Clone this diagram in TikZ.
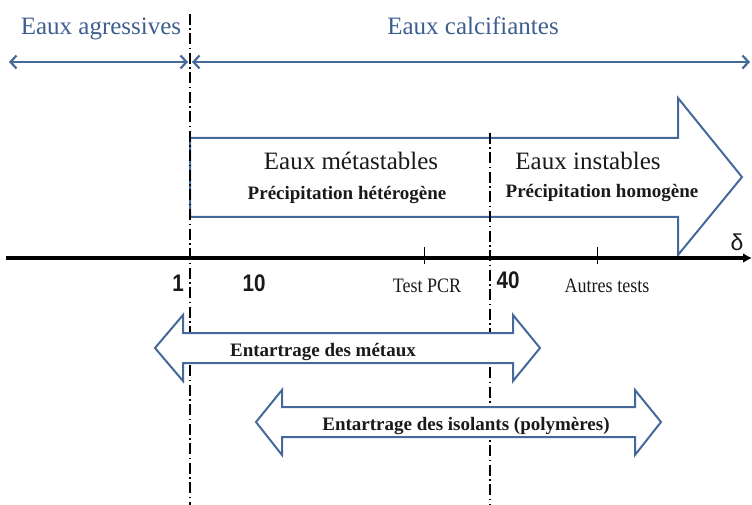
\documentclass[tikz,border=0pt]{standalone}
\usepackage{fontspec}
\setmainfont{Liberation Serif}
\newfontfamily\labsans{Liberation Sans}
\newfontfamily\numsans[FakeStretch=0.86]{Liberation Sans}
\newfontfamily\tickserif[FakeStretch=0.88]{Liberation Serif}
\usetikzlibrary{arrows.meta}

\definecolor{lineblue}{HTML}{45699B}
\definecolor{textblue}{HTML}{3E5F8E}
\definecolor{ink}{HTML}{1A1A1A}

\tikzset{
  zone/.style={anchor=base, inner sep=0pt, text=textblue, font=\fontsize{25}{25}\selectfont},
  title/.style={anchor=base, inner sep=0pt, text=ink, font=\fontsize{25}{25}\selectfont},
  subtitle/.style={anchor=base, inner sep=0pt, text=ink, font=\fontsize{19}{19}\selectfont\bfseries},
  ticklabel/.style={anchor=base, inner sep=0pt, text=ink, font=\tickserif\fontsize{20.5}{20.5}\selectfont},
  numlabel/.style={anchor=base, inner sep=0pt, text=ink, font=\numsans\fontsize{24}{24}\selectfont\bfseries},
  blueshape/.style={draw=lineblue, line width=2pt, fill=white, line join=miter},
  rangearrow/.style={draw=lineblue, line width=2.2pt, {Straight Barb[length=6pt,width=13pt]}-{Straight Barb[length=6pt,width=13pt]}},
  limit/.style={draw=black, line width=1.3pt, dash pattern=on 11pt off 3.5pt on 1.5pt off 3.5pt},
  axisline/.style={draw=black, line width=3.5pt, -{Latex[length=9pt,width=10pt]}},
  tick/.style={draw=black, line width=1pt}
}

\begin{document}
\begin{tikzpicture}[x=1pt, y=-1pt]
  \useasboundingbox (0,0) rectangle (752,505);

  % key coordinates
  \coordinate (agL) at (9,62);
  \coordinate (agR) at (188,62);
  \coordinate (caL) at (192,62);
  \coordinate (caR) at (750,62);
  \coordinate (limA top) at (190,14);
  \coordinate (limA bot) at (190,505);
  \coordinate (limB top) at (490,133);
  \coordinate (limB bot) at (490,505);
  \coordinate (axL) at (6,258);
  \coordinate (axR) at (752,258);
  \coordinate (pcr top) at (424,247);
  \coordinate (pcr bot) at (424,264);
  \coordinate (aut top) at (597,247);
  \coordinate (aut bot) at (597,264);

  % large arrow of calcifying waters
  \draw[blueshape] (190,138) -- (678,138) -- (678,98) -- (742,177) -- (678,255)
    -- (678,217) -- (190,217) -- cycle;

  % boundaries between domains
  \draw[limit] (limA top) -- (limA bot);
  \draw[limit] (limB top) -- (limB bot);

  % domain ranges at the top
  \draw[rangearrow] (agL) -- (agR);
  \draw[rangearrow] (caL) -- (caR);
  \node[zone] (agr) at (101,35) {Eaux agressives};
  \node[zone] (cal) at (473,35) {Eaux calcifiantes};

  % labels inside the large arrow
  \node[title] (meta) at (351,170) {Eaux métastables};
  \node[subtitle] (hetero) at (347,200) {Précipitation hétérogène};
  \node[title] (inst) at (588,170) {Eaux instables};
  \node[subtitle] (homo) at (602,198) {Précipitation homogène};

  % scaling ranges
  \draw[blueshape] (155,348) -- (183,315) -- (183,333) -- (513,333) -- (513,315)
    -- (540,348) -- (513,381) -- (513,363) -- (183,363) -- (183,381) -- cycle;
  \node[subtitle] (metaux) at (323,356) {Entartrage des métaux};
  \draw[blueshape] (256,422) -- (282,390) -- (282,407) -- (635,407) -- (635,390)
    -- (661,422) -- (635,455) -- (635,437) -- (282,437) -- (282,455) -- cycle;
  \node[subtitle] (isol) at (466,430) {Entartrage des isolants (polymères)};

  % delta axis
  \draw[axisline] (axL) -- (axR);
  \draw[tick] (pcr top) -- (pcr bot);
  \draw[tick] (aut top) -- (aut bot);
  \node[anchor=base, inner sep=0pt, text=ink, font=\labsans\fontsize{23}{23}\selectfont] (delta) at (737,250) {δ};

  % axis labels
  \node[numlabel] (n1) at (178,291) {1};
  \node[numlabel] (n10) at (254,291) {10};
  \node[ticklabel] (tpcr) at (427,292) {Test PCR};
  \node[numlabel] (n40) at (508,288) {40};
  \node[ticklabel] (taut) at (607,292) {Autres tests};
\end{tikzpicture}
\end{document}
